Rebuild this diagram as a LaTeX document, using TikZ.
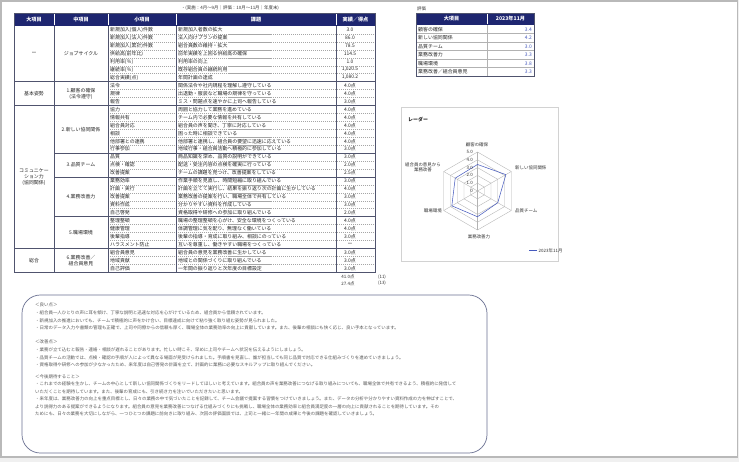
\documentclass[tikz,border=0pt]{standalone}
\usepackage{fontspec}
\newfontfamily\jp{Noto Sans CJK JP}
\definecolor{navy}{RGB}{30,38,112}
\definecolor{rulec}{RGB}{80,84,110}
\definecolor{plotblue}{RGB}{70,90,190}
\definecolor{boxc}{RGB}{105,112,145}
\begin{document}
\begin{tikzpicture}[
x=0.03cm,y=-0.03cm,
cell/.style={font=\jp\fontsize{4.2}{5}\selectfont,inner sep=0pt,black!85},
head/.style={font=\jp\bfseries\fontsize{4.4}{5}\selectfont,inner sep=0pt,white},
small/.style={font=\jp\fontsize{3.8}{4.6}\selectfont,inner sep=0pt,black!80},
note/.style={font=\jp\fontsize{3.8}{6.45}\selectfont,inner sep=0pt,black!65,align=left,anchor=north west},
tab/.style={rulec,line width=0.5pt},
dots/.style={gray!70,line width=0.3pt,dash pattern=on 1pt off 0.7pt},
ring/.style={gray!60,line width=0.3pt}]
\useasboundingbox (0,0) rectangle (739,462);
\fill[gray!12] (0,0) rectangle (739,462);
\filldraw[fill=white,draw=gray!55,line width=1.2pt] (1,1) rectangle (737.5,457);

% main table
\node[small] (title) at (230,8) {・(実施：4月～9月｜評価：10月～11月｜年度末)};
\fill[navy] (14,13) rectangle (375,26);
\foreach \x/\t [count=\k] in {34/大項目,81/中項目,142/小項目,256/課題,355.5/実績／得点}
  \node[head] (h\k) at (\x,19.5) {\t};
\foreach \s/\t/\p [count=\i] in {
  新規加入(個人)件数/新規加入者数の拡大/3.0,
  新規加入(法人)件数/法人向けプランの提案/86.0,
  新規加入(累計)件数/組合員数の維持・拡大/78.5,
  供給高(前年比)/前年実績を上回る供給高の確保/114.5,
  利用率(％)/利用率の向上/1.0,
  継続率(％)/既存組合員の継続利用/{1,020.5},
  総合実績(点)/年間計画の達成/{1,080.2},
  法令/関係法令や社内規程を理解し遵守している/4.0点,
  規律/出退勤・服装など職場の規律を守っている/4.0点,
  報告/ミス・問題点を速やかに上司へ報告している/3.0点,
  協力/周囲と協力して業務を進めている/4.0点,
  情報共有/チーム内で必要な情報を共有している/4.0点,
  組合員対応/組合員の声を聞き、丁寧に対応している/4.0点,
  相談/困った時に相談できている/4.0点,
  他部署との連携/他部署と連携し、組合員の要望に迅速に応えている/4.0点,
  行事参加/地域行事・組合員活動へ積極的に参加している/3.0点,
  品質/商品知識を深め、品質の説明ができている/3.0点,
  点検・確認/配送・受注内容の点検を確実に行っている/2.0点,
  改善提案/チームの課題を見つけ、改善提案をしている/2.5点,
  業務効率/作業手順を見直し、時間短縮に取り組んでいる/3.0点,
  計画・実行/計画を立てて実行し、結果を振り返り次の計画に生かしている/4.0点,
  改善提案/業務改善の提案を行い、職場全体で共有している/3.0点,
  資料作成/分かりやすい資料を作成している/3.0点,
  自己啓発/資格取得や研修への参加に取り組んでいる/2.0点,
  整理整頓/職場の整理整頓を心がけ、安全な環境をつくっている/4.0点,
  健康管理/体調管理に気を配り、無理なく働いている/4.0点,
  後輩指導/後輩の指導・育成に取り組み、相談にのっている/3.0点,
  ハラスメント防止/互いを尊重し、働きやすい職場をつくっている/ー,
  組合員意見/組合員の意見を業務改善に生かしている/3.0点,
  地域貢献/地域との関係づくりに取り組んでいる/3.0点,
  自己評価/一年間の振り返りと次年度の目標設定/3.0点}{
  \node[cell,anchor=west] (s\i) at (110,{26+(\i-0.5)*7.94}) {\s};
  \node[cell,anchor=west] (t\i) at (178,{26+(\i-0.5)*7.94}) {\t};
  \node[cell] (p\i) at (350,{26+(\i-0.5)*7.94}) {\p};
}
\foreach \k in {1,...,6,8,9,11,12,13,14,15,17,18,20,21,22,23,25,26,27,29,30}
  \draw[dots] (108,{26+\k*7.94}) -- (375,{26+\k*7.94});
\foreach \k in {7,10,28}
  \draw[tab] (14,{26+\k*7.94}) -- (375,{26+\k*7.94});
\foreach \k in {16,19,24}
  \draw[tab] (54,{26+\k*7.94}) -- (375,{26+\k*7.94});
\foreach \x in {54,108,176,336}{
  \draw[tab] (\x,26) -- (\x,272.14);
  \draw[white,line width=0.4pt] (\x,13.6) -- (\x,25.4);
}
\draw[tab] (14,13) rectangle (375,272.14);
\foreach \y/\t [count=\k] in {3.5/ー,8.5/基本姿勢,19/{コミュニケー\\ション力\\(協同関係)},29.5/総合}
  \node[cell,align=center] (m\k) at (34,{26+\y*7.94}) {\t};
\foreach \y/\t [count=\k] in {3.5/ジョブサイクル,8.5/{1.顧客の確保\\(法令遵守)},13/2.新しい協同関係,
  17.5/3.品質チーム,21.5/4.業務改善力,26/5.職場環境,29.5/{6.業務改善／\\組合員意見}}
  \node[cell,align=center] (g\k) at (81,{26+\y*7.94}) {\t};
\node[small] (sum1) at (348,277) {41.0点};
\node[small] (sum2) at (348,283.5) {27.4点};
\node[small] (cnt1) at (382,277) {(11)};
\node[small] (cnt2) at (382,283.5) {(13)};

% summary table
\node[small,anchor=west] (cap) at (417,8.5) {評価};
\fill[navy] (416,13) rectangle (534,25);
\node[head] (rh1) at (451.5,19) {大項目};
\node[head] (rh2) at (510.5,19) {2023年11月};
\foreach \t/\v [count=\i] in {顧客の確保/3.4,新しい協同関係/4.2,品質チーム/3.0,業務改善力/3.3,職場環境/3.8,業務改善／組合員意見/3.3}{
  \node[cell,anchor=west] (r\i) at (418,{25+(\i-0.5)*8.5}) {\t};
  \node[cell,anchor=east,plotblue] (v\i) at (532,{25+(\i-0.5)*8.5}) {\v};
  \draw[gray!60,line width=0.3pt] (416,{25+\i*8.5}) -- (534,{25+\i*8.5});
}
\draw[gray!60,line width=0.3pt] (487,25) -- (487,76);
\draw[white,line width=0.4pt] (487,13.6) -- (487,24.4);
\draw[tab] (416,13) rectangle (534,76);

% radar
\draw[gray!35,line width=0.4pt] (401,107) rectangle (558,261);
\node[cell,font=\jp\bfseries\fontsize{4.2}{5}\selectfont,anchor=west] (chart) at (408,120) {レーダー};
\coordinate (c) at (477.5,191);
\begin{scope}[shift={(c)}]
  \foreach \r in {1,...,5}
    \draw[ring] (-90:\r*7.8) -- (-30:\r*7.8) -- (30:\r*7.8) -- (90:\r*7.8) -- (150:\r*7.8) -- (210:\r*7.8) -- cycle;
  \foreach \a in {-90,-30,...,210}
    \draw[ring] (0,0) -- (\a:39);
  \foreach \a/\v [count=\j] in {-90/3.4,-30/4.2,30/3.0,90/3.3,150/3.8,210/3.3}
    \coordinate (d\j) at (\a:\v*7.8);
  \draw[plotblue,line width=0.45pt] (d1) -- (d2) -- (d3) -- (d4) -- (d5) -- (d6) -- cycle;
  \foreach \v [count=\j from 0] in {0,1.0,2.0,3.0,4.0,5.0}
    \node[small,anchor=east] (tk\j) at (-4.5,{-\j*7.8}) {\v};
\end{scope}
\node[small] (ax1) at (477,145) {顧客の確保};
\node[small,anchor=west] (ax2) at (515,168) {新しい協同関係};
\node[small,anchor=west] (ax3) at (515,211) {品質チーム};
\node[small] (ax4) at (479,237) {業務改善力};
\node[small,anchor=east] (ax5) at (442,211) {職場環境};
\node[small,anchor=east,align=center] (ax6) at (441,167.5) {組合員の意見から\\業務改善};
\node[small,anchor=west] (lgd) at (538.5,250.7) {2023年11月};
\draw[plotblue,line width=0.45pt] (lgd.west) ++(-1.5,0) -- ++(-8,0);

% remarks
\draw[boxc,line width=0.6pt,rounded corners=0.55cm] (22,295) rectangle (487,453);
\node[note] (good) at (35,303) {＜良い点＞\\
・組合員一人ひとりの声に耳を傾け、丁寧な説明と迅速な対応を心がけているため、組合員から信頼されています。\\
・新規加入の推進においても、チームで積極的に声をかけ合い、目標達成に向けて粘り強く取り組む姿勢が見られました。\\
・日常のデータ入力や書類の管理も正確で、上司や同僚からの信頼も厚く、職場全体の業務効率の向上に貢献しています。また、後輩の相談にも快く応じ、良い手本となっています。};
\node[note] (bad) at (35,340) {＜改善点＞\\
・業務が立て込むと報告・連絡・相談が遅れることがあります。忙しい時こそ、早めに上司やチームへ状況を伝えるようにしましょう。\\
・品質チームの活動では、点検・確認の手順が人によって異なる場面が見受けられました。手順書を見直し、誰が担当しても同じ品質で対応できる仕組みづくりを進めていきましょう。\\
・資格取得や研修への参加が少なかったため、来年度は自己啓発の計画を立て、計画的に業務に必要なスキルアップに取り組んでください。};
\node[note] (next) at (35,374) {＜今後期待すること＞\\
・これまでの経験を生かし、チームの中心として新しい協同関係づくりをリードしてほしいと考えています。組合員の声を業務改善につなげる取り組みについても、職場全体で共有できるよう、積極的に発信して\\
いただくことを期待しています。また、後輩の育成にも、引き続き力を注いでいただきたいと思います。\\
・来年度は、業務改善力の向上を重点目標とし、日々の業務の中で気づいたことを記録して、チーム会議で提案する習慣をつけていきましょう。また、データの分析や分かりやすい資料作成の力を伸ばすことで、\\
より説得力のある提案ができるようになります。組合員の意見を業務改善につなげる仕組みづくりにも挑戦し、職場全体の業務効率と組合員満足度の一層の向上に貢献されることを期待しています。その\\
ためにも、日々の業務を大切にしながら、一つひとつの課題に前向きに取り組み、次回の評価面談では、上司と一緒に一年間の成果と今後の課題を確認していきましょう。};
\end{tikzpicture}
\end{document}
